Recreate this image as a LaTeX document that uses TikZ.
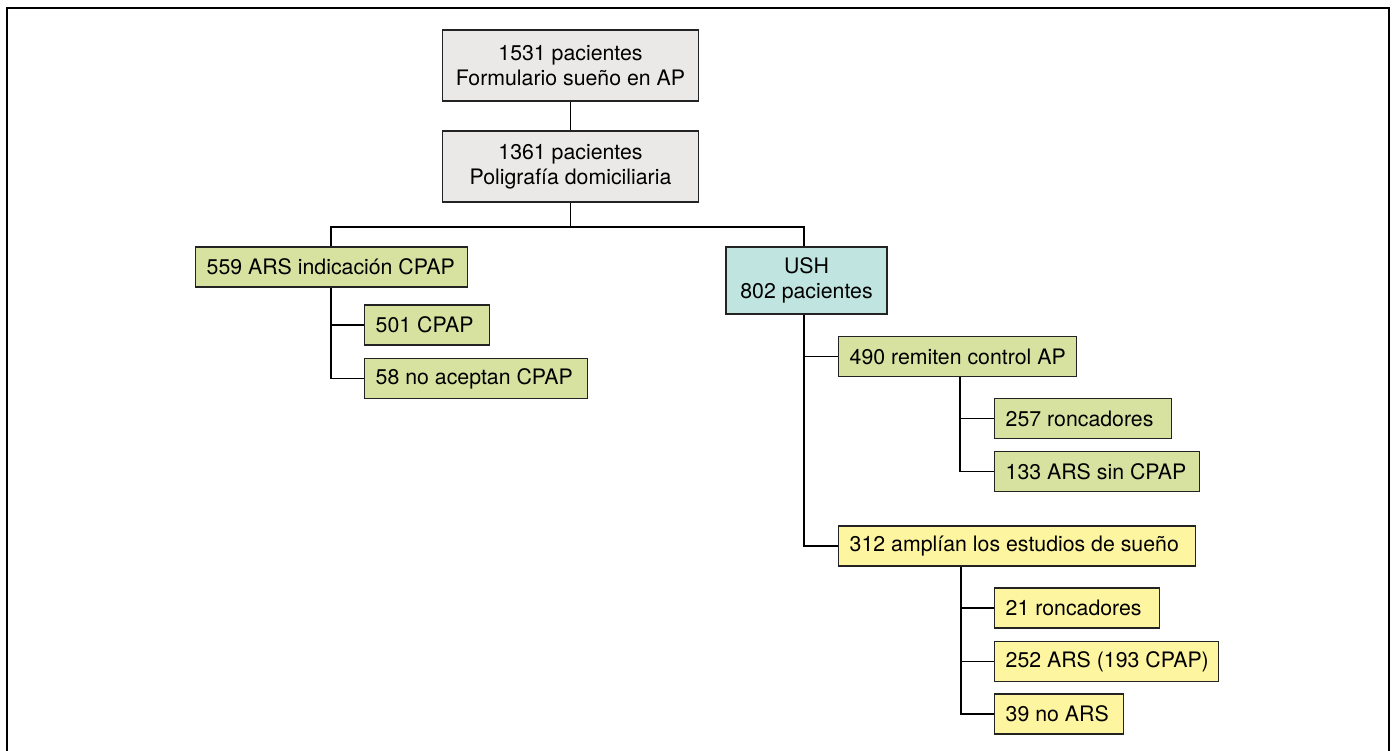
\documentclass[tikz,border=0pt]{standalone}
\usepackage{fontspec}
\setmainfont{TeX Gyre Heros}
\definecolor{boxgray}{RGB}{234,233,231}
\definecolor{boxteal}{RGB}{192,228,223}
\definecolor{boxgreen}{RGB}{216,226,160}
\definecolor{boxyellow}{RGB}{254,245,160}
\definecolor{edge}{RGB}{35,35,35}
\newcommand{\lefttext}[2]{\makebox[#1][l]{#2}}
\tikzset{
  box/.style={draw=edge, line width=1.4pt, inner xsep=11pt, inner ysep=0pt, font=\fontsize{21.3}{25}\selectfont},
  cbox/.style={box, align=center},
  lbox/.style={box, anchor=west, minimum height=40pt},
  conn/.style={draw=black, line width=1.3pt},
  frame/.style={draw=black, line width=2pt}
}
\begin{document}
\begin{tikzpicture}[x=1pt,y=-1pt]
\useasboundingbox (0,0) rectangle (1395,751);
\draw[frame] (6.5,751) -- (6.5,8) -- (1388.5,8) -- (1388.5,751);

\node[cbox, fill=boxgray, minimum width=256pt, minimum height=71pt] (n1) at (570.5,65.5) {1531 pacientes\\Formulario sueño en AP};
\node[cbox, fill=boxgray, minimum width=256pt, minimum height=71pt] (n2) at (570.5,166.5) {1361 pacientes\\Poligrafía domiciliaria};

\node[lbox, fill=boxgreen] (ars) at (195,267) {\lefttext{250pt}{559 ARS indicación CPAP}};
\node[lbox, fill=boxgreen] (c501) at (364,325) {\lefttext{103pt}{501 CPAP}};
\node[lbox, fill=boxgreen] (n58) at (364,378.5) {\lefttext{201pt}{58 no aceptan CPAP}};

\node[cbox, fill=boxteal, minimum width=161pt, minimum height=67pt] (ush) at (806.5,280.5) {USH\\802 pacientes};
\node[lbox, fill=boxgreen] (r490) at (838,356.5) {\lefttext{216pt}{490 remiten control AP}};
\node[lbox, fill=boxgreen] (r257) at (994,418.5) {\lefttext{155pt}{257 roncadores}};
\node[lbox, fill=boxgreen] (a133) at (994,471.5) {\lefttext{183pt}{133 ARS sin CPAP}};

\node[lbox, fill=boxyellow] (a312) at (838,546) {\lefttext{335pt}{312 amplían los estudios de sueño}};
\node[lbox, fill=boxyellow] (r21) at (994,608) {\lefttext{143pt}{21 roncadores}};
\node[lbox, fill=boxyellow] (a252) at (994,661.5) {\lefttext{202pt}{252 ARS (193 CPAP)}};
\node[lbox, fill=boxyellow] (n39) at (994,714) {\lefttext{107pt}{39 no ARS}};

\draw[conn] (n1.south) -- (n2.north);
\coordinate (busL) at (331,227);
\coordinate (busR) at (804,227);
\draw[conn] (n2.south) -- (n2.south |- busL);
\draw[conn] (ars.north -| busL) -- (busL) -- (busR) -- (ush.north -| busR);

\draw[conn] (ars.south -| busL) -- (busL |- n58.west) -- (n58.west);
\draw[conn] (busL |- c501.west) -- (c501.west);

\draw[conn] (ush.south -| busR) -- (busR |- a312.west) -- (a312.west);
\draw[conn] (busR |- r490.west) -- (r490.west);

\coordinate (t490) at ([xshift=122pt]r490.south west);
\draw[conn] (t490) -- (t490 |- a133.west) -- (a133.west);
\draw[conn] (t490 |- r257.west) -- (r257.west);

\coordinate (t312) at ([xshift=123pt]a312.south west);
\draw[conn] (t312) -- (t312 |- n39.west) -- (n39.west);
\draw[conn] (t312 |- r21.west) -- (r21.west);
\draw[conn] (t312 |- a252.west) -- (a252.west);
\end{tikzpicture}
\end{document}
